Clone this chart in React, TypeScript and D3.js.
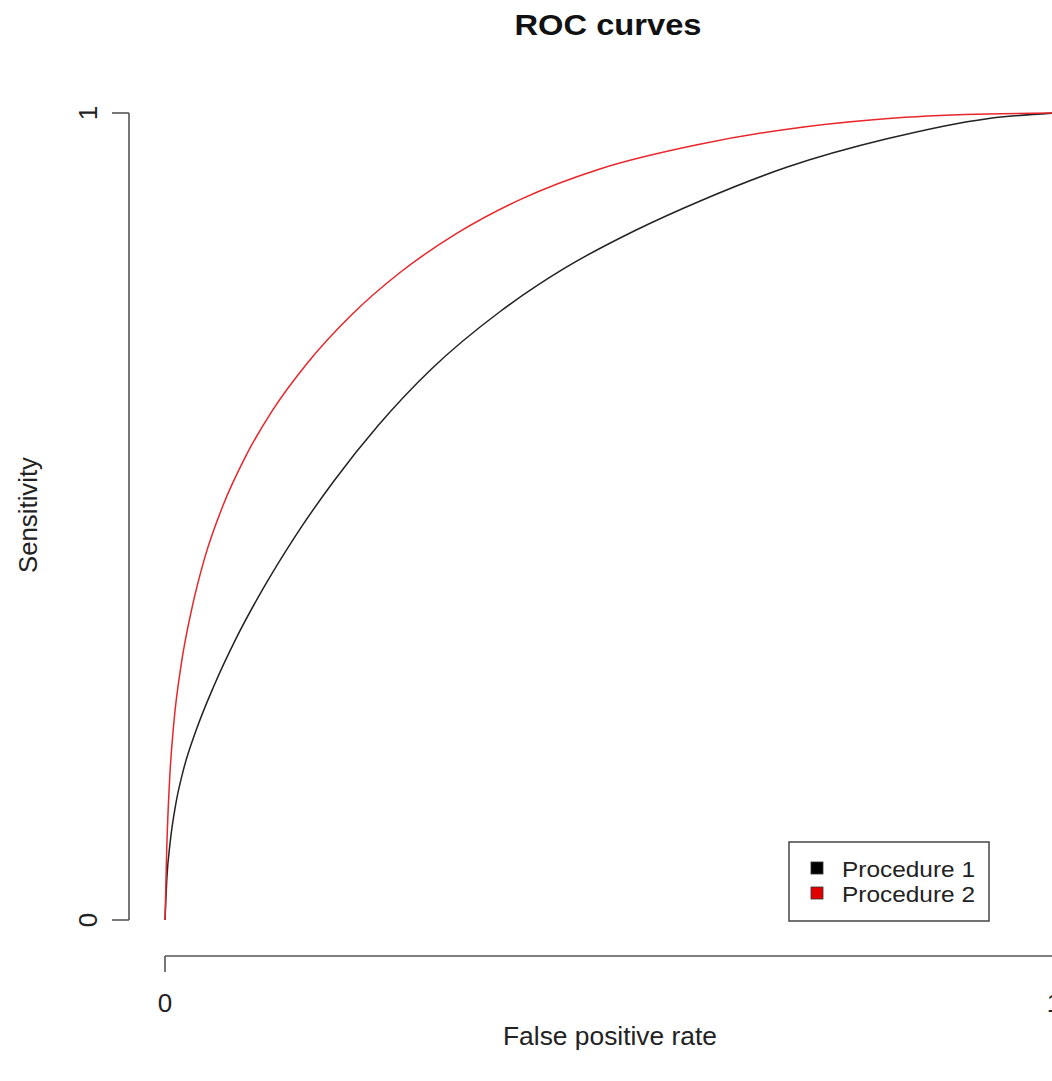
import React from "react";
import * as d3 from "d3";

const fprProc1 = [0, 0.002, 0.006, 0.012, 0.02, 0.035, 0.055, 0.08, 0.11, 0.145, 0.19, 0.24, 0.3, 0.377, 0.45, 0.53, 0.602, 0.7, 0.812, 0.925, 1];
const sensProc1 = [0, 0.05, 0.098, 0.143, 0.183, 0.235, 0.29, 0.349, 0.41, 0.473, 0.544, 0.613, 0.683, 0.754, 0.808, 0.855, 0.891, 0.933, 0.968, 0.993, 1];

const fprProc2 = [0, 0.002, 0.005, 0.01, 0.018, 0.03, 0.045, 0.065, 0.09, 0.12, 0.16, 0.21, 0.264, 0.33, 0.4, 0.49, 0.6, 0.7, 0.8, 0.9, 1];
const sensProc2 = [0, 0.09, 0.17, 0.245, 0.315, 0.385, 0.45, 0.513, 0.573, 0.63, 0.69, 0.75, 0.802, 0.852, 0.893, 0.931, 0.961, 0.98, 0.992, 0.998, 1];

const seriesNames = ["Procedure 1", "Procedure 2"];
const seriesColors = ["#222222", "#e8262b"];
const legendColors = ["#000000", "#e00000"];
const xTicks = [0, 1];
const yTicks = [0, 1];

const W = 1052;
const H = 1081;
const FONT = "'Liberation Sans', Arial, Helvetica, sans-serif";

export default function App() {
  const x = d3.scaleLinear().domain([0, 1]).range([165, 1054]);
  const y = d3.scaleLinear().domain([0, 1]).range([920, 113]);
  const line = d3
    .line<[number, number]>()
    .x((d) => x(d[0]))
    .y((d) => y(d[1]))
    .curve(d3.curveMonotoneX);

  const series = [
    fprProc1.map((f, i) => [f, sensProc1[i]] as [number, number]),
    fprProc2.map((f, i) => [f, sensProc2[i]] as [number, number]),
  ];

  const axisColor = "#555";
  const yAxisX = 129;
  const xAxisY = 956;

  return (
    <svg
      width={W}
      height={H}
      style={{ position: "absolute", left: 0, top: 0, display: "block", background: "#fff" }}
      fontFamily={FONT}
    >
      <rect x={0} y={0} width={W} height={H} fill="#fff" />
      {/* title */}
      <text x={608} y={35} textAnchor="middle" fontWeight="bold" fontSize={29} fill="#111" textLength={187} lengthAdjust="spacingAndGlyphs">
        ROC curves
      </text>

      {/* y axis */}
      <line x1={yAxisX} x2={yAxisX} y1={y(yTicks[0])} y2={y(yTicks[yTicks.length - 1])} stroke={axisColor} strokeWidth={1.6} />
      {yTicks.map((t) => (
        <g key={"yt" + t}>
          <line x1={112} x2={yAxisX} y1={y(t)} y2={y(t)} stroke={axisColor} strokeWidth={1.6} />
          <text
            transform={`translate(97,${y(t)}) rotate(-90)`}
            textAnchor="middle"
            fontSize={26}
            fill="#222"
          >
            {String(t)}
          </text>
        </g>
      ))}

      {/* x axis */}
      <line x1={x(xTicks[0])} x2={x(xTicks[xTicks.length - 1])} y1={xAxisY} y2={xAxisY} stroke={axisColor} strokeWidth={1.6} />
      {xTicks.map((t) => (
        <g key={"xt" + t}>
          <line x1={x(t)} x2={x(t)} y1={xAxisY} y2={972} stroke={axisColor} strokeWidth={1.6} />
          <text x={x(t)} y={1012} textAnchor="middle" fontSize={26} fill="#222">
            {String(t)}
          </text>
        </g>
      ))}

      {/* axis titles */}
      <text x={610} y={1045} textAnchor="middle" fontSize={25} fill="#222" textLength={214} lengthAdjust="spacingAndGlyphs">
        False positive rate
      </text>
      <text
        transform={`translate(37,515) rotate(-90)`}
        textAnchor="middle"
        fontSize={25}
        fill="#222"
        textLength={116}
        lengthAdjust="spacingAndGlyphs"
      >
        Sensitivity
      </text>

      {/* curves */}
      {series.map((s, i) => (
        <path key={"s" + i} d={line(s) || ""} fill="none" stroke={seriesColors[i]} strokeWidth={1.5} />
      ))}

      {/* legend */}
      <rect x={789} y={842} width={200} height={79} fill="#fff" stroke="#444" strokeWidth={1.5} />
      {seriesNames.map((n, i) => (
        <g key={"lg" + i}>
          <rect x={811} y={862 + i * 25} width={12} height={12} fill={legendColors[i]} stroke="#333" strokeWidth={0.8} />
          <text x={842} y={877 + i * 25} fontSize={22.5} fill="#222" textLength={133} lengthAdjust="spacingAndGlyphs">
            {n}
          </text>
        </g>
      ))}
    </svg>
  );
}
